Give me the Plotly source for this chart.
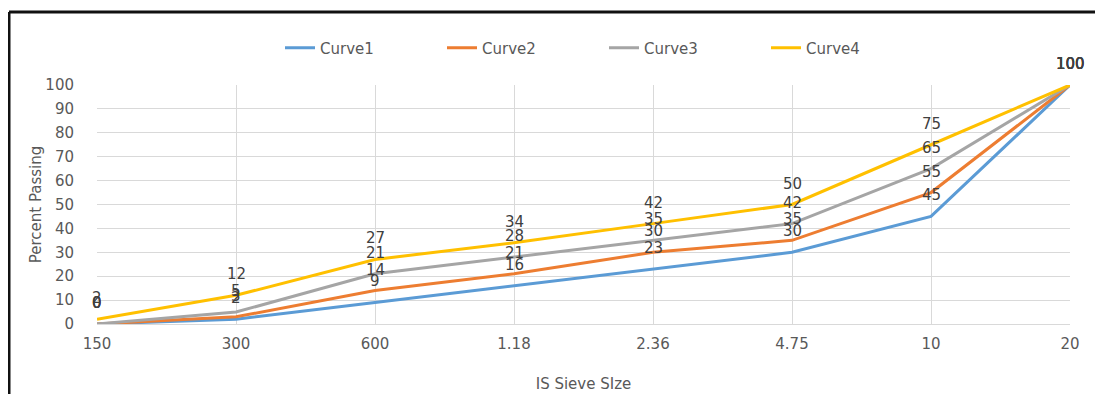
import plotly.graph_objects as go

sieve_sizes = ["150", "300", "600", "1.18", "2.36", "4.75", "10", "20"]
curve1 = [0, 2, 9, 16, 23, 30, 45, 100]
curve2 = [0, 3, 14, 21, 30, 35, 55, 100]
curve3 = [0, 5, 21, 28, 35, 42, 65, 100]
curve4 = [2, 12, 27, 34, 42, 50, 75, 100]
series_names = ["Curve1", "Curve2", "Curve3", "Curve4"]
series_values = [curve1, curve2, curve3, curve4]
colors = ["#5B9BD5", "#ED7D31", "#A5A5A5", "#FFC000"]
y_ticks = list(range(0, 101, 10))

FONT = "DejaVu Sans"
GRAY = "#595959"

fig = go.Figure()
for name, vals, col in zip(series_names, series_values, colors):
    fig.add_trace(go.Scatter(
        x=sieve_sizes, y=vals, name=name, mode="lines",
        line=dict(color=col, width=3),
    ))

annotations = []
for vals in series_values:
    for i, v in enumerate(vals):
        annotations.append(dict(
            x=i, y=v, xref="x", yref="y", text=str(v), showarrow=False,
            yshift=21, font=dict(family=FONT, size=15, color="#404040"),
        ))

W, H = 1103, 394
L, T = 89, 77
pw, ph = 973, 239
R = W - L - pw
B = H - T - ph
bx = (1 - L) / pw
by = (T + ph - 4) / ph

fig.update_layout(
    width=W, height=H,
    margin=dict(l=L, r=R, t=T, b=B),
    paper_bgcolor="white", plot_bgcolor="white",
    font=dict(family=FONT, size=15, color=GRAY),
    showlegend=True,
    legend=dict(
        orientation="h", x=(272 - L) / pw, xanchor="left",
        y=(T + ph - 40) / ph, yanchor="middle",
        entrywidth=117, entrywidthmode="pixels",
        font=dict(family=FONT, size=15, color=GRAY),
        bgcolor="rgba(0,0,0,0)",
    ),
    xaxis=dict(
        type="category", range=[0, 7], showgrid=True, gridcolor="#D9D9D9",
        showline=True, linecolor="#D9D9D9", linewidth=1, ticks="",
        tickfont=dict(family=FONT, size=15, color=GRAY), ticklabelstandoff=6,
        title=dict(text="IS Sieve SIze", font=dict(family=FONT, size=15, color=GRAY), standoff=26),
    ),
    yaxis=dict(
        range=[0, 100], tickvals=y_ticks, showgrid=True, gridcolor="#D9D9D9",
        zeroline=False, ticks="",
        tickfont=dict(family=FONT, size=15, color=GRAY), ticklabelstandoff=22,
        title=dict(text="Percent Passing", font=dict(family=FONT, size=15, color=GRAY), standoff=0),
    ),
    annotations=annotations,
    shapes=[
        dict(type="line", xref="paper", yref="paper", x0=bx, x1=bx, y0=-0.6, y1=by,
             line=dict(color="#111111", width=3)),
        dict(type="line", xref="paper", yref="paper", x0=bx, x1=1.2, y0=by, y1=by,
             line=dict(color="#111111", width=3)),
    ],
)

fig.write_html("out.html")
